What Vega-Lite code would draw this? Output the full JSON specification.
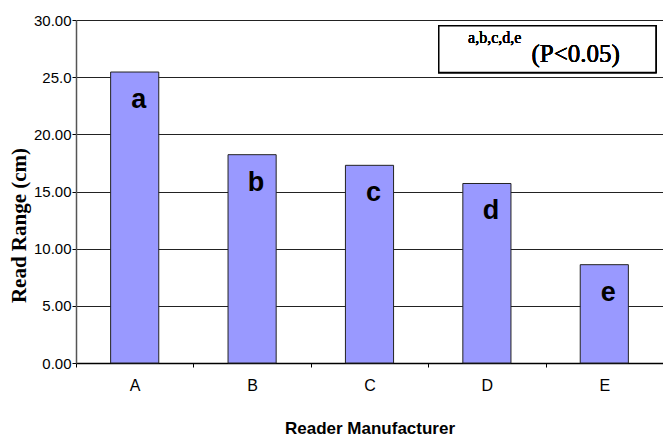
{
  "$schema": "https://vega.github.io/schema/vega-lite/v6.json",
  "width": 587,
  "height": 343,
  "autosize": {"type": "none"},
  "padding": {"left": 76, "top": 20, "right": 0, "bottom": 80},
  "background": "white",
  "config": {"view": {"stroke": null}},
  "data": {"values": [
    {"maker": "A", "range": 25.45, "label": "a"},
    {"maker": "B", "range": 18.22, "label": "b"},
    {"maker": "C", "range": 17.29, "label": "c"},
    {"maker": "D", "range": 15.7, "label": "d"},
    {"maker": "E", "range": 8.6, "label": "e"}
  ]},
  "layer": [
    {
      "encoding": {
        "x": {"field": "maker", "type": "nominal", "scale": {"paddingInner": 0, "paddingOuter": 0},
          "axis": {"title": "Reader Manufacturer", "labelAngle": 0, "labelFont": "Liberation Sans", "labelFontSize": 16, "labelColor": "#000", "labelPadding": 10,
            "tickBand": "extent", "tickSize": 4, "tickColor": "#000", "domainColor": "#000", "domainWidth": 1.5,
            "titleFont": "Liberation Sans", "titleFontSize": 17, "titleFontWeight": "bold", "titleColor": "#000", "titleY": 70, "titleBaseline": "alphabetic"}},
        "y": {"field": "range", "type": "quantitative", "scale": {"domain": [0, 30]},
          "axis": {"title": "Read Range (cm)", "values": [0, 5, 10, 15, 20, 25, 30],
            "labelExpr": "datum.value == 25 ? '25.0' : format(datum.value, '.2f')",
            "labelFont": "Liberation Sans", "labelFontSize": 15, "labelColor": "#000", "labelPadding": 1,
            "tickSize": 4, "tickColor": "#000", "domainColor": "#555", "domainWidth": 1.5,
            "grid": true, "gridColor": "#222", "gridWidth": 1,
            "titleFont": "Liberation Serif", "titleFontSize": 21, "titleFontWeight": "bold", "titleColor": "#000",
            "titleAngle": -90, "titleX": -51, "titleY": 205, "titleAlign": "center", "titleBaseline": "alphabetic"}}
      },
      "layer": [
        {
          "mark": {"type": "bar", "color": "#9999FF", "stroke": "#222222", "strokeWidth": 1, "width": {"band": 0.41}}
        },
        {
          "mark": {"type": "text", "font": "Liberation Sans", "fontWeight": "bold", "fontSize": 27, "baseline": "alphabetic", "dy": 36, "dx": 4, "color": "#000"},
          "encoding": {"text": {"field": "label"}}
        }
      ]
    },
    {
      "layer": [
        {
          "mark": {"type": "rect", "fill": "white", "stroke": "#000", "strokeWidth": 1.5},
          "encoding": {
            "x": {"datum": 0.618, "type": "quantitative", "scale": {"domain": [0, 1]}, "axis": null},
            "x2": {"datum": 0.988},
            "y": {"datum": 29.5, "type": "quantitative"},
            "y2": {"datum": 25.4}
          }
        },
        {
          "mark": {"type": "text", "font": "Times New Roman", "fontWeight": 400, "fontSize": 16, "align": "left", "baseline": "alphabetic", "color": "#000"},
          "encoding": {
            "x": {"datum": 0.668, "type": "quantitative", "scale": {"domain": [0, 1]}, "axis": null},
            "y": {"datum": 28.0, "type": "quantitative"},
            "text": {"value": "a,b,c,d,e"}
          }
        },
        {
          "mark": {"type": "text", "font": "Times New Roman", "fontWeight": 400, "fontSize": 25, "align": "left", "baseline": "alphabetic", "color": "#000"},
          "encoding": {
            "x": {"datum": 0.776, "type": "quantitative", "scale": {"domain": [0, 1]}, "axis": null},
            "y": {"datum": 26.33, "type": "quantitative"},
            "text": {"value": "(P<0.05)"}
          }
        }
      ]
    }
  ],
  "resolve": {"scale": {"x": "independent"}}
}
